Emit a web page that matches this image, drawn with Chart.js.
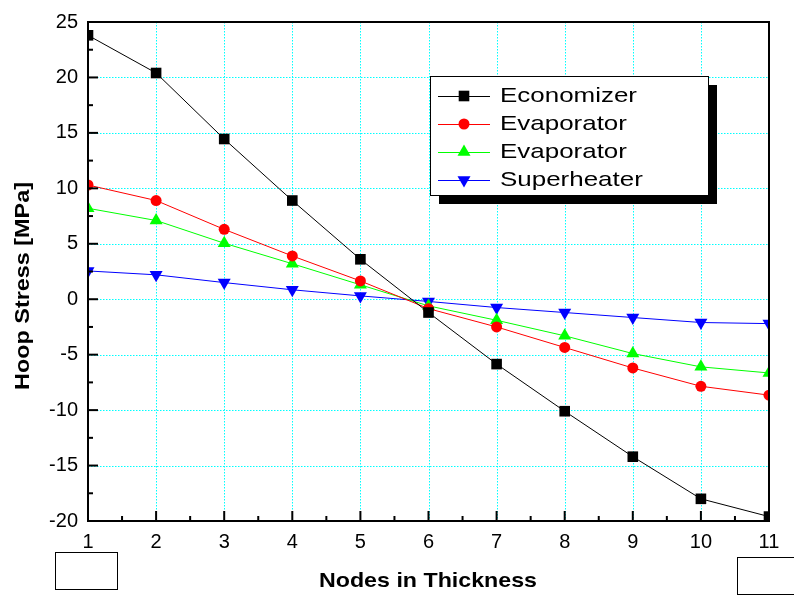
<!DOCTYPE html>
<html>
<head>
<meta charset="utf-8">
<script src="https://cdn.jsdelivr.net/npm/chart.js@4.4.0/dist/chart.umd.min.js"></script>
<style>
  html, body { margin: 0; padding: 0; background: #fff; }
  #wrap { width: 794px; height: 596px; }
</style>
</head>
<body>
<div id="wrap"><canvas id="chart" width="794" height="596"></canvas></div>
<script>
const nodes = [1, 2, 3, 4, 5, 6, 7, 8, 9, 10, 11];
const economizer = [23.8, 20.4, 14.45, 8.9, 3.6, -1.2, -5.85, -10.1, -14.2, -18.0, -19.6];
const evaporatorA = [10.3, 8.9, 6.3, 3.9, 1.65, -0.85, -2.5, -4.35, -6.2, -7.85, -8.65];
const evaporatorB = [8.2, 7.1, 5.05, 3.2, 1.3, -0.6, -1.9, -3.3, -4.9, -6.1, -6.65];
const superheater = [2.55, 2.2, 1.5, 0.85, 0.3, -0.2, -0.75, -1.2, -1.65, -2.1, -2.2];

const seriesNames = ["Economizer", "Evaporator", "Evaporator", "Superheater"];
const seriesColors = ["#000000", "#ff0000", "#00ff00", "#0000ff"];
const seriesStyles = ["rect", "circle", "triangle", "triangle"];
const seriesRot = [0, 0, 0, 180];
const seriesRadius = [7.5, 5.5, 7.5, 7.5];
const seriesData = [economizer, evaporatorA, evaporatorB, superheater];

const xTitle = "Nodes in Thickness";
const yTitle = "Hoop Stress [MPa]";

const FONT = "'Liberation Sans', Arial, sans-serif";

// text drawn stretched to a given width, like the original export
function wideText(ctx, text, x, y, width) {
    const w = ctx.measureText(text).width;
    ctx.save();
    ctx.translate(x, y);
    ctx.scale(width / w, 1);
    ctx.fillText(text, 0, 0);
    ctx.restore();
}

const frame = {
    id: "frame",
    beforeDatasetsDraw(chart) {
        const ctx = chart.ctx;
        const a = chart.chartArea;
        const xs = chart.scales.x, ys = chart.scales.y;
        ctx.save();
        ctx.strokeStyle = "#00ffff";
        ctx.lineWidth = 1;
        ctx.setLineDash([1.5, 1.5]);
        xs.ticks.forEach(t => {
            const px = Math.round(xs.getPixelForValue(t.value)) + 0.5;
            ctx.beginPath();
            ctx.moveTo(px, a.top);
            ctx.lineTo(px, a.bottom);
            ctx.stroke();
        });
        ys.ticks.forEach(t => {
            const py = Math.round(ys.getPixelForValue(t.value)) + 0.5;
            ctx.beginPath();
            ctx.moveTo(a.left, py);
            ctx.lineTo(a.right, py);
            ctx.stroke();
        });
        ctx.restore();
    },
    afterDatasetsDraw(chart) {
        const ctx = chart.ctx;
        const a = chart.chartArea;
        const xs = chart.scales.x, ys = chart.scales.y;
        ctx.save();
        ctx.strokeStyle = "#000";
        ctx.lineWidth = 2;
        ctx.strokeRect(a.left, a.top, a.right - a.left, a.bottom - a.top);
        for (let v = 1; v <= 11; v += 0.5) {
            const px = xs.getPixelForValue(v);
            const len = Number.isInteger(v) ? 10 : 5;
            ctx.beginPath();
            ctx.moveTo(px, a.bottom);
            ctx.lineTo(px, a.bottom - len);
            ctx.stroke();
        }
        for (let v = -20; v <= 25; v += 2.5) {
            const py = ys.getPixelForValue(v);
            const len = v % 5 === 0 ? 10 : 5;
            ctx.beginPath();
            ctx.moveTo(a.left, py);
            ctx.lineTo(a.left + len, py);
            ctx.stroke();
        }
        ctx.restore();
    },
    afterDraw(chart) {
        const ctx = chart.ctx;
        ctx.save();
        // axis titles
        ctx.fillStyle = "#000";
        ctx.font = "bold 21px " + FONT;
        ctx.textAlign = "left";
        ctx.textBaseline = "alphabetic";
        wideText(ctx, xTitle, 319, 587, 218);
        ctx.save();
        ctx.translate(29, 390);
        ctx.rotate(-Math.PI / 2);
        wideText(ctx, yTitle, 0, 0, 208);
        ctx.restore();
        // empty boxes
        ctx.strokeStyle = "#000";
        ctx.lineWidth = 1;
        ctx.strokeRect(55.5, 552.5, 62, 37);
        ctx.strokeRect(737.5, 557.5, 70, 37);
        // legend
        const lx = 430, ly = 76, lw = 278, lh = 119;
        ctx.fillStyle = "#000";
        ctx.fillRect(lx + 9, ly + 9, lw, lh);
        ctx.fillStyle = "#fff";
        ctx.fillRect(lx, ly, lw, lh);
        ctx.strokeRect(lx + 0.5, ly + 0.5, lw, lh);
        ctx.font = "21px " + FONT;
        ctx.textBaseline = "middle";
        const k = 137 / ctx.measureText("Economizer").width;
        seriesNames.forEach((name, i) => {
            const y = 96 + i * 28;
            ctx.strokeStyle = seriesColors[i];
            ctx.lineWidth = 1;
            ctx.beginPath();
            ctx.moveTo(438, y + 0.5);
            ctx.lineTo(490, y + 0.5);
            ctx.stroke();
            ctx.fillStyle = seriesColors[i];
            Chart.helpers.drawPoint(ctx, {
                pointStyle: seriesStyles[i],
                rotation: seriesRot[i],
                radius: seriesRadius[i],
                borderWidth: 0
            }, 464, y);
            ctx.fillStyle = "#000";
            wideText(ctx, name, 500, y, ctx.measureText(name).width * k);
        });
        ctx.restore();
    }
};

new Chart(document.getElementById("chart"), {
    type: "line",
    data: {
        datasets: seriesData.map((vals, i) => ({
            label: seriesNames[i],
            data: nodes.map((n, j) => ({ x: n, y: vals[j] })),
            borderColor: seriesColors[i],
            backgroundColor: seriesColors[i],
            borderWidth: 1,
            pointStyle: seriesStyles[i],
            rotation: seriesRot[i],
            pointRadius: seriesRadius[i],
            pointBorderWidth: 0,
            tension: 0,
        })),
    },
    options: {
        responsive: false,
        animation: false,
        layout: { padding: { top: 18, right: 25, left: 0, bottom: 0 } },
        plugins: {
            legend: { display: false },
            tooltip: { enabled: false },
        },
        scales: {
            x: {
                type: "linear",
                min: 1,
                max: 11,
                afterFit(scale) { scale.height = 75; },
                ticks: {
                    stepSize: 1,
                    color: "#000",
                    padding: 9,
                    maxRotation: 0,
                    font: { family: FONT, size: 20 },
                },
                grid: { display: false, drawTicks: false },
                border: { display: false },
            },
            y: {
                min: -20,
                max: 25,
                afterFit(scale) { scale.width = 88; },
                ticks: {
                    stepSize: 5,
                    color: "#000",
                    padding: 10,
                    font: { family: FONT, size: 20 },
                },
                grid: { display: false, drawTicks: false },
                border: { display: false },
            },
        },
    },
    plugins: [frame],
});
</script>
</body>
</html>
